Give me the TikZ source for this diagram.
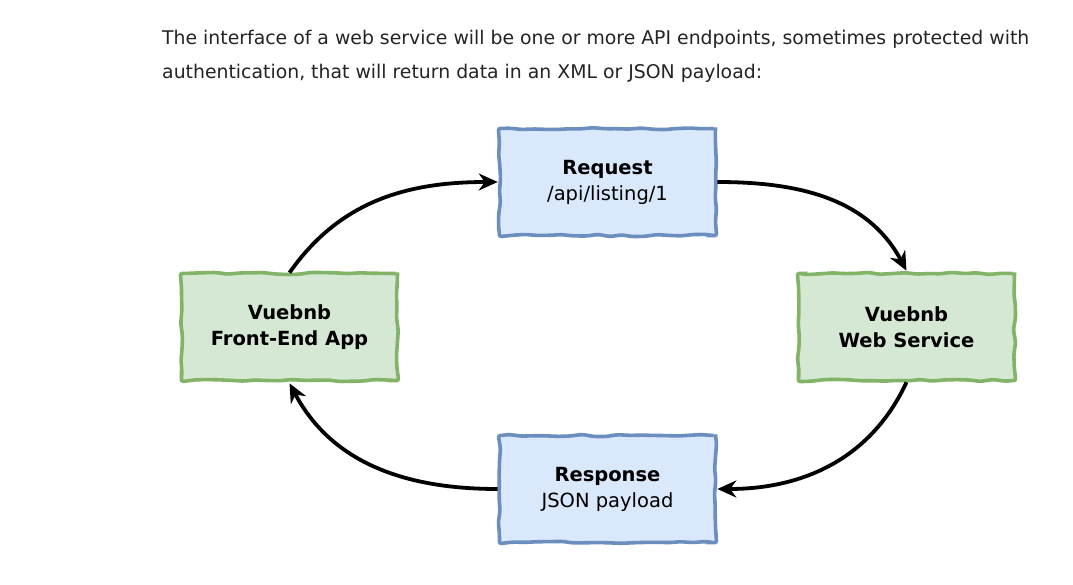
\documentclass[tikz,border=0pt]{standalone}
\usepackage{fontspec}
\setmainfont{DejaVu Sans}
\newfontfamily\boxfont{DejaVu Sans}
\usetikzlibrary{arrows.meta,decorations.pathmorphing}
\definecolor{bluefill}{HTML}{DAE8FC}
\definecolor{blueline}{HTML}{6C8EBF}
\definecolor{greenfill}{HTML}{D5E8D4}
\definecolor{greenline}{HTML}{82B366}
\definecolor{bodytext}{HTML}{242424}
\tikzset{
  sketchbox/.style={draw, line width=3.6pt, minimum width=216pt, minimum height=107pt,
    inner sep=0pt, align=center, decorate,
    decoration={random steps, segment length=12pt, amplitude=1.1pt},
    rounded corners=2pt,
    font=\boxfont\fontsize{19.5}{26}\selectfont},
  bluebox/.style={sketchbox, fill=bluefill, draw=blueline},
  greenbox/.style={sketchbox, fill=greenfill, draw=greenline},
  flow/.style={line width=3.8pt, black, -{Stealth[length=19pt,width=17pt]}},
  bodyline/.style={anchor=base west, inner sep=0pt, text=bodytext, font=\fontsize{18.85}{22}\selectfont}
}
\begin{document}
\begin{tikzpicture}[x=1pt,y=1pt]
\pgfmathsetseed{7}
\useasboundingbox[fill=white] (0,0) rectangle (1073,584);
\node[bodyline] (l1) at (162,539) {The interface of a web service will be one or more API endpoints, sometimes protected with};
\node[bodyline] (l2) at (162,505) {authentication, that will return data in an XML or JSON payload:};
\node[bluebox] (req) at (607.5,402) {\textbf{Request}\\/api/listing/1};
\node[greenbox] (fe) at (289.5,257) {\textbf{Vuebnb}\\\textbf{Front-End App}};
\node[greenbox] (ws) at (906.5,257) {\textbf{Vuebnb}\\\textbf{Web Service}};
\node[bluebox] (resp) at (607.5,95) {\textbf{Response}\\JSON payload};
\draw[flow] ([yshift=-1pt]fe.north) to[out=55,in=180] (req.west);
\draw[flow] (req.east) to[out=0,in=118] ([yshift=1pt]ws.north);
\draw[flow] (ws.south) to[out=-115,in=0] (resp.east);
\draw[flow] (resp.west) to[out=180,in=-62] ([yshift=-1pt]fe.south);
\end{tikzpicture}
\end{document}
